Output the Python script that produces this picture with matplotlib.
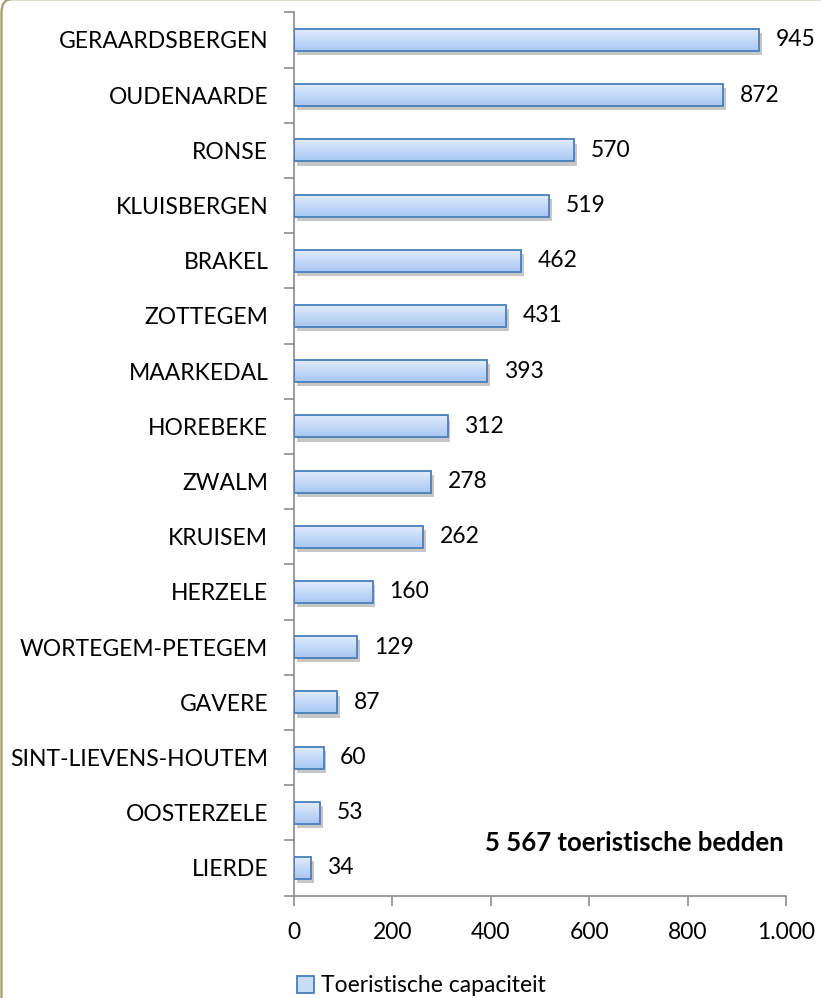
import matplotlib
matplotlib.use("Agg")
import matplotlib.pyplot as plt
import numpy as np
from matplotlib.patches import Patch, FancyBboxPatch, Rectangle
import matplotlib.patheffects as pe
from matplotlib.ticker import FixedLocator
from matplotlib.colors import LinearSegmentedColormap

plt.rcParams['font.family'] = ['Lato', 'DejaVu Sans']

categories = ["GERAARDSBERGEN", "OUDENAARDE", "RONSE", "KLUISBERGEN", "BRAKEL",
              "ZOTTEGEM", "MAARKEDAL", "HOREBEKE", "ZWALM", "KRUISEM", "HERZELE",
              "WORTEGEM-PETEGEM", "GAVERE", "SINT-LIEVENS-HOUTEM", "OOSTERZELE", "LIERDE"]
values = [945, 872, 570, 519, 462, 431, 393, 312, 278, 262, 160, 129, 87, 60, 53, 34]
x_ticks = [0, 200, 400, 600, 800, 1000]
x_tick_labels = ["0", "200", "400", "600", "800", "1.000"]
series_name = "Toeristische capaciteit"
note = "5 567 toeristische bedden"

W, H = 821, 998
fig = plt.figure(figsize=(W / 100, H / 100), dpi=100)
ax = fig.add_axes([294 / W, 1 - 895.6 / H, (786 - 294) / W, (895.6 - 12.4) / H])

FS = 16.5
edge = '#4a7ebb'
y = np.arange(len(categories))
bars = ax.barh(y, values, height=0.4, color='none', edgecolor=edge, linewidth=1.3, zorder=4)

# gradient fill + shadow
grad = np.linspace(0, 1, 64).reshape(-1, 1)
cmap = LinearSegmentedColormap.from_list('g', ['#e4eefc', '#a7c6f3'])
for b in bars:
    x0, y0 = b.get_x(), b.get_y()
    w, h = b.get_width(), b.get_height()
    sh = Rectangle((x0, y0), w, h, facecolor='none', edgecolor='none', zorder=1,
                   path_effects=[pe.SimplePatchShadow(offset=(2, -3), shadow_rgbFace='#000000',
                                                      alpha=0.22)])
    ax.add_patch(sh)
    im = ax.imshow(grad, extent=(x0, x0 + w, y0 + h, y0), aspect='auto', cmap=cmap,
                   origin='upper', zorder=2, interpolation='bilinear')
    im.set_clip_path(b)
ax.set_xlim(0, 1000)
ax.set_ylim(len(categories) - 0.5, -0.5)
ax.set_aspect('auto')

ax.bar_label(bars, labels=[str(v) for v in values], padding=12, fontsize=FS, color='black')

ax.set_yticks(y)
ax.set_yticklabels(categories, fontsize=FS)
ax.yaxis.set_minor_locator(FixedLocator(np.arange(-0.5, len(categories), 1)))
ax.tick_params(axis='y', which='major', length=0, pad=18.5)
ax.tick_params(axis='y', which='minor', length=7, width=1.2, color='#8c8c8c', direction='out')

ax.set_xticks(x_ticks)
ax.set_xticklabels(x_tick_labels, fontsize=FS)
ax.tick_params(axis='x', length=7, width=1.2, color='#8c8c8c', direction='out', pad=12)

for s in ['top', 'right']:
    ax.spines[s].set_visible(False)
for s in ['left', 'bottom']:
    ax.spines[s].set_color('#8c8c8c')
    ax.spines[s].set_linewidth(1.2)

ax.text(634 / W, 1 - 843 / H, note, transform=fig.transFigure, ha='center', va='center',
        fontsize=18.5, fontweight='bold')

handle = Patch(facecolor='#c9dcf8', edgecolor=edge, linewidth=1.3)
fig.legend([handle], [series_name], loc='center left', bbox_to_anchor=(297 / W, 1 - 986 / H),
           frameon=False, fontsize=FS, handlelength=0.75, handleheight=0.75,
           handletextpad=0.3, borderpad=0, borderaxespad=0)

# outer rounded frame (only left edge and top-left corner visible)
frame = FancyBboxPatch((1.5 / W, -0.2), 1.5, 0.2 + 1 + 0.8 / H,
                       boxstyle='round,pad=0,rounding_size=0.013',
                       transform=fig.transFigure, facecolor='none', edgecolor='#a39b6b',
                       linewidth=1.6, clip_on=False)
fig.patches.append(frame)

fig.savefig('out.png', dpi=100)
